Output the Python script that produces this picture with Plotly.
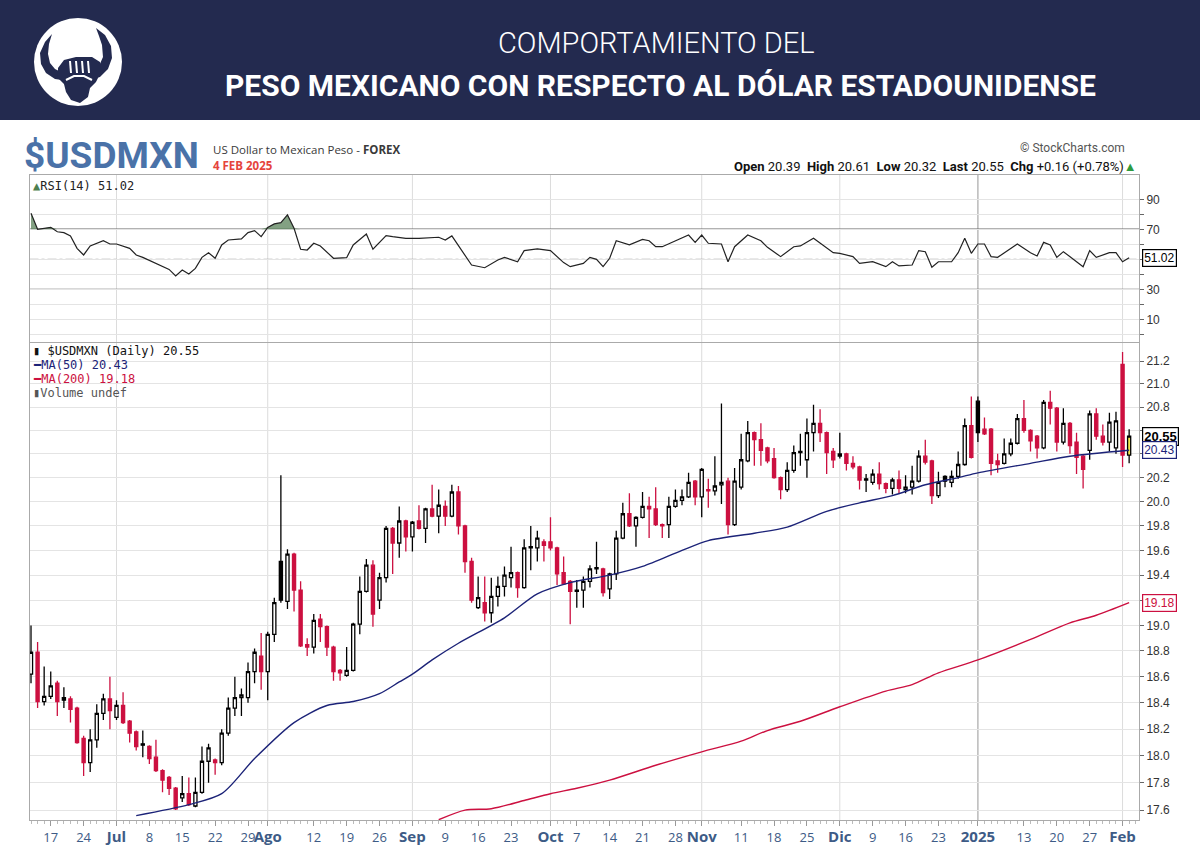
import numpy as np
import pandas as pd
import plotly.graph_objects as go

W, H = 1200, 864

# trading days shown (weekdays, no Dec 25 / Jan 1)
holidays = ["2024-12-25", "2025-01-01"]
dates = [d.strftime("%Y-%m-%d") for d in pd.bdate_range("2024-06-12", "2025-02-04")
         if d.strftime("%Y-%m-%d") not in holidays]

opens = [18.62, 18.79, 18.41, 18.45, 18.55, 18.44, 18.43, 18.36, 18.13, 17.95,
         18.12, 18.32, 18.43, 18.29, 18.38, 18.26, 18.18, 18.09, 18.07, 17.99,
         17.89, 17.84, 17.76, 17.69, 17.72, 17.63, 17.73, 17.96, 17.97, 17.95,
         18.17, 18.36, 18.44, 18.44, 18.64, 18.76, 18.64, 18.93, 19.51, 19.19,
         19.57, 19.28, 18.85, 18.83, 19.05, 18.99, 18.83, 18.65, 18.61, 18.65,
         19.01, 19.27, 19.48, 19.20, 19.38, 19.78, 19.66, 19.84, 19.71, 19.84,
         19.78, 19.94, 19.88, 19.96, 19.88, 20.08, 19.80, 19.51, 19.14, 19.18,
         19.10, 19.23, 19.31, 19.38, 19.42, 19.30, 19.63, 19.62, 19.67, 19.67,
         19.62, 19.42, 19.35, 19.27, 19.28, 19.35, 19.46, 19.45, 19.29, 19.41,
         19.70, 19.90, 19.80, 19.87, 19.96, 19.94, 19.81, 19.81, 19.96, 20.01,
         20.04, 20.17, 20.04, 20.10, 20.09, 20.14, 20.17, 19.81, 20.12, 20.34,
         20.58, 20.52, 20.45, 20.36, 20.20, 20.10, 20.26, 20.41, 20.35, 20.58,
         20.66, 20.58, 20.42, 20.38, 20.40, 20.32, 20.29, 20.19, 20.16, 20.23,
         20.15, 20.11, 20.18, 20.10, 20.12, 20.17, 20.38, 20.34, 20.05, 20.21,
         20.16, 20.21, 20.31, 20.64, 20.85, 20.61, 20.61, 20.34, 20.32, 20.40,
         20.49, 20.70, 20.60, 20.55, 20.45, 20.84, 20.79, 20.50, 20.66, 20.50,
         20.38, 20.43, 20.74, 20.55, 20.50, 20.45, 21.17, 20.39]
highs = [19.00, 18.87, 18.68, 18.64, 18.57, 18.52, 18.45, 18.37, 18.15, 18.20,
         18.39, 18.47, 18.60, 18.42, 18.48, 18.27, 18.19, 18.19, 18.08, 18.12,
         17.90, 17.85, 17.77, 17.85, 17.84, 17.84, 18.07, 18.09, 17.98, 18.20,
         18.44, 18.60, 18.51, 18.71, 18.82, 18.94, 18.95, 19.22, 20.22, 19.61,
         19.58, 19.35, 18.90, 19.09, 19.09, 19.00, 18.84, 18.66, 18.83, 19.02,
         19.39, 19.53, 19.52, 19.42, 19.80, 19.79, 19.96, 19.85, 19.84, 19.97,
         19.95, 20.14, 20.10, 20.01, 20.14, 20.13, 19.81, 19.54, 19.39, 19.39,
         19.38, 19.39, 19.47, 19.63, 19.43, 19.69, 19.80, 19.76, 19.69, 19.87,
         19.63, 19.55, 19.36, 19.36, 19.39, 19.48, 19.67, 19.46, 19.42, 19.76,
         19.99, 20.07, 19.88, 20.08, 20.04, 20.12, 19.82, 20.04, 20.10, 20.10,
         20.24, 20.18, 20.28, 20.19, 20.38, 20.83, 20.20, 20.28, 20.57, 20.68,
         20.59, 20.66, 20.46, 20.45, 20.21, 20.33, 20.47, 20.57, 20.70, 20.82,
         20.78, 20.59, 20.45, 20.58, 20.41, 20.38, 20.30, 20.23, 20.27, 20.33,
         20.16, 20.20, 20.26, 20.22, 20.30, 20.43, 20.52, 20.35, 20.25, 20.22,
         20.26, 20.42, 20.70, 20.89, 20.89, 20.71, 20.62, 20.40, 20.53, 20.53,
         20.74, 20.86, 20.61, 20.56, 20.86, 20.94, 20.80, 20.79, 20.67, 20.58,
         20.39, 20.77, 20.79, 20.65, 20.75, 20.76, 21.28, 20.61]
lows = [18.55, 18.36, 18.38, 18.43, 18.30, 18.36, 18.25, 18.09, 17.85, 17.88,
        18.06, 18.27, 18.20, 18.27, 18.24, 18.10, 18.04, 17.99, 17.94, 17.88,
        17.73, 17.71, 17.60, 17.66, 17.63, 17.62, 17.72, 17.80, 17.86, 17.93,
        18.15, 18.30, 18.30, 18.40, 18.55, 18.50, 18.42, 18.87, 19.18, 19.13,
        19.11, 18.83, 18.76, 18.78, 18.87, 18.76, 18.57, 18.57, 18.60, 18.64,
        18.93, 19.26, 18.99, 19.13, 19.34, 19.41, 19.54, 19.59, 19.59, 19.77,
        19.66, 19.87, 19.74, 19.80, 19.87, 19.73, 19.42, 19.18, 19.13, 19.03,
        19.02, 19.15, 19.23, 19.30, 19.22, 19.29, 19.44, 19.51, 19.51, 19.60,
        19.32, 19.32, 19.01, 19.14, 19.14, 19.30, 19.41, 19.23, 19.21, 19.36,
        19.69, 19.79, 19.63, 19.86, 19.70, 19.80, 19.70, 19.70, 19.95, 19.97,
        20.03, 19.97, 19.87, 19.95, 20.05, 19.98, 19.73, 19.80, 20.10, 20.33,
        20.30, 20.30, 20.32, 20.19, 20.02, 20.08, 20.24, 20.30, 20.20, 20.42,
        20.50, 20.23, 20.28, 20.36, 20.26, 20.27, 20.10, 20.08, 20.14, 20.10,
        20.07, 20.06, 20.07, 20.07, 20.06, 20.16, 20.31, 19.98, 20.03, 20.12,
        20.12, 20.19, 20.30, 20.36, 20.50, 20.56, 20.22, 20.24, 20.31, 20.38,
        20.48, 20.58, 20.42, 20.36, 20.44, 20.65, 20.42, 20.48, 20.40, 20.23,
        20.11, 20.35, 20.52, 20.47, 20.42, 20.40, 20.29, 20.32]
closes = [18.79, 18.41, 18.45, 18.53, 18.41, 18.42, 18.35, 18.10, 17.95, 18.12,
          18.32, 18.43, 18.34, 18.38, 18.25, 18.17, 18.07, 18.08, 17.98, 17.89,
          17.82, 17.76, 17.61, 17.72, 17.64, 17.73, 17.96, 18.06, 17.95, 18.17,
          18.36, 18.44, 18.46, 18.64, 18.79, 18.64, 18.93, 19.18, 19.20, 19.57,
          19.28, 18.84, 18.83, 19.04, 18.99, 18.83, 18.64, 18.63, 18.65, 19.01,
          19.27, 19.48, 19.09, 19.38, 19.78, 19.66, 19.84, 19.71, 19.83, 19.78,
          19.94, 19.88, 19.97, 19.88, 20.08, 19.80, 19.51, 19.20, 19.22, 19.10,
          19.23, 19.31, 19.40, 19.42, 19.30, 19.62, 19.62, 19.70, 19.64, 19.62,
          19.41, 19.33, 19.27, 19.28, 19.35, 19.45, 19.45, 19.26, 19.41, 19.70,
          19.90, 19.80, 19.87, 19.96, 19.94, 19.81, 19.80, 19.96, 20.01, 20.04,
          20.16, 20.04, 20.27, 20.09, 20.13, 20.16, 19.81, 20.17, 20.35, 20.58,
          20.52, 20.43, 20.34, 20.20, 20.10, 20.26, 20.41, 20.42, 20.58, 20.66,
          20.58, 20.41, 20.35, 20.40, 20.32, 20.29, 20.18, 20.18, 20.23, 20.15,
          20.11, 20.18, 20.11, 20.12, 20.17, 20.38, 20.33, 20.05, 20.16, 20.17,
          20.21, 20.31, 20.64, 20.37, 20.58, 20.57, 20.32, 20.31, 20.40, 20.49,
          20.70, 20.60, 20.51, 20.45, 20.84, 20.79, 20.50, 20.66, 20.47, 20.37,
          20.27, 20.74, 20.55, 20.50, 20.67, 20.68, 20.39, 20.55]

# moving averages and RSI (day index, value)
ma50_idx = [16, 24, 29, 34, 40, 45, 49, 53, 56, 58, 61, 65, 72, 77, 82, 88, 93, 99,
            103, 110, 115, 121, 126, 131, 136, 141, 144, 152, 158, 167]
ma50_val = [17.56, 17.64, 17.72, 17.98, 18.25, 18.38, 18.41, 18.47, 18.56, 18.62,
            18.73, 18.86, 19.06, 19.25, 19.34, 19.40, 19.47, 19.60, 19.68, 19.74,
            19.79, 19.92, 19.99, 20.05, 20.14, 20.20, 20.24, 20.32, 20.38, 20.43]
ma200_idx = [62, 66, 70, 75, 79, 83, 88, 95, 102, 108, 112, 117, 123, 130, 134, 138,
             144, 152, 158, 162, 167]
ma200_val = [17.53, 17.60, 17.61, 17.67, 17.72, 17.76, 17.82, 17.93, 18.03, 18.11,
             18.19, 18.26, 18.37, 18.49, 18.54, 18.63, 18.73, 18.89, 19.02, 19.08, 19.18]
rsi_idx = [0, 1, 3, 4, 5, 6, 7, 8, 9, 11, 12, 13, 15, 16, 17, 19, 21, 22, 23, 24,
           25, 26, 27, 28, 29, 30, 32, 33, 34, 35, 36, 37, 38, 39, 40, 41, 42, 43, 44, 46,
           48, 49, 51, 52, 54, 55, 57, 59, 62, 63, 64, 67, 69, 71, 72, 74, 75, 77, 79, 81,
           82, 84, 85, 86, 87, 88, 89, 91, 93, 94, 95, 96, 98, 100, 101, 102, 103, 105, 106, 107,
           109, 111, 112, 114, 116, 117, 119, 120, 122, 123, 125, 126, 128, 130, 131, 132, 134, 135, 136, 137,
           138, 140, 141, 142, 143, 144, 145, 146, 147, 150, 152, 153, 154, 155, 156, 157, 160, 161, 162, 164,
           165, 166, 167]
rsi_val = [80.7, 70.0, 71.3, 68.4, 67.8, 65.6, 57.3, 52.9, 58.9, 62.4, 60.2, 60.2, 57.3, 52.9, 51.3, 47.3, 43.3, 38.9, 42.9, 40.2,
           44.0, 51.3, 54.4, 50.7, 59.6, 62.9, 63.6, 67.8, 69.1, 65.1, 71.3, 73.6, 74.4, 79.6, 70.7, 56.7, 56.2, 60.7, 58.9, 50.7,
           51.1, 59.6, 66.9, 56.7, 65.8, 65.1, 64.0, 64.0, 64.7, 62.9, 65.6, 46.2, 44.4, 49.6, 51.3, 48.4, 55.8, 56.9, 55.8, 47.8,
           45.1, 47.3, 51.3, 50.0, 45.1, 50.7, 62.4, 59.6, 63.3, 62.4, 58.4, 58.4, 62.4, 66.2, 61.3, 66.2, 60.7, 60.2, 48.4, 58.4,
           66.2, 62.4, 58.0, 51.8, 58.4, 58.9, 64.0, 60.7, 54.4, 54.0, 51.8, 47.3, 48.4, 45.1, 48.4, 45.6, 46.2, 55.8, 55.1, 44.7,
           48.4, 48.4, 54.4, 64.0, 54.0, 60.2, 60.2, 51.8, 51.3, 60.2, 54.4, 52.2, 61.3, 59.6, 51.3, 55.1, 45.1, 55.8, 51.3, 54.4,
           54.4, 48.4, 51.02]

tick_dates = ["2024-06-17", "2024-06-24", "2024-07-01", "2024-07-08", "2024-07-15", "2024-07-22",
              "2024-07-29", "2024-08-01", "2024-08-12", "2024-08-19", "2024-08-26", "2024-09-02",
              "2024-09-09", "2024-09-16", "2024-09-23", "2024-10-01", "2024-10-07", "2024-10-14",
              "2024-10-21", "2024-10-28", "2024-11-01", "2024-11-11", "2024-11-18", "2024-11-25",
              "2024-12-02", "2024-12-09", "2024-12-16", "2024-12-23", "2025-01-02", "2025-01-13",
              "2025-01-20", "2025-01-27", "2025-02-03"]
tick_text = ["17", "24", "Jul", "8", "15", "22", "29", "Ago", "12", "19", "26", "Sep", "9", "16",
             "23", "Oct", "7", "14", "21", "28", "Nov", "11", "18", "25", "Dic", "9", "16", "23",
             "2025", "13", "20", "27", "Feb"]
month_labels = {"Jul", "Ago", "Sep", "Oct", "Nov", "Dic", "2025", "Feb"}

price_ticks = [17.6, 17.8, 18.0, 18.2, 18.4, 18.6, 18.8, 19.0, 19.2, 19.4, 19.6, 19.8,
               20.0, 20.2, 20.4, 20.6, 20.8, 21.0, 21.2]
hidden_ticks = {19.2, 20.4, 20.6}   # sit under the last-value boxes

n = len(dates)
assert n == len(closes) == 168
x = list(range(n))

RED = "#cc1040"
NAVY = "#1c2378"
HEADER = "#232a4f"
AXIS_BLUE = "#3d5b86"

fig = go.Figure()

# candles grouped by style: red when close < previous close, filled when close < open
groups = {}
for i in x:
    if i == n - 1:
        key = "last"
    else:
        red = i > 0 and closes[i] < closes[i - 1]
        filled = closes[i] < opens[i]
        key = ("red" if red else "black", filled)
    groups.setdefault(key, []).append(i)

for key, ids in groups.items():
    if key == "last":
        col, fill = "black", "#f5e94a"
    else:
        col = RED if key[0] == "red" else "black"
        fill = col if key[1] else "white"
    style = dict(line=dict(color=col, width=1.3), fillcolor=fill)
    fig.add_trace(go.Candlestick(
        x=ids,
        open=[opens[i] for i in ids], high=[highs[i] for i in ids],
        low=[lows[i] for i in ids], close=[closes[i] for i in ids],
        increasing=style, decreasing=style, whiskerwidth=0,
        hoverinfo="skip", showlegend=False, xaxis="x", yaxis="y"))

fig.add_trace(go.Scatter(x=ma50_idx, y=ma50_val, mode="lines",
                         line=dict(color=NAVY, width=1.4, shape="spline", smoothing=0.8),
                         hoverinfo="skip", showlegend=False, xaxis="x", yaxis="y"))
fig.add_trace(go.Scatter(x=ma200_idx, y=ma200_val, mode="lines",
                         line=dict(color=RED, width=1.4, shape="spline", smoothing=0.8),
                         hoverinfo="skip", showlegend=False, xaxis="x", yaxis="y"))

# RSI panel: fill above 70 then the line
rsi_clip = np.maximum(np.array(rsi_val), 70)
fig.add_trace(go.Scatter(x=rsi_idx, y=[70] * len(rsi_idx), mode="lines",
                         line=dict(width=0), hoverinfo="skip", showlegend=False,
                         xaxis="x2", yaxis="y2"))
fig.add_trace(go.Scatter(x=rsi_idx, y=rsi_clip, mode="lines", fill="tonexty",
                         fillcolor="rgba(90,130,90,0.75)", line=dict(width=0),
                         hoverinfo="skip", showlegend=False, xaxis="x2", yaxis="y2"))
fig.add_trace(go.Scatter(x=rsi_idx, y=rsi_val, mode="lines",
                         line=dict(color="#222222", width=1.2), hoverinfo="skip",
                         showlegend=False, xaxis="x2", yaxis="y2"))

x_dom = [29.5 / W, 1139 / W]
price_dom = [(H - 820) / H, (H - 343) / H]
rsi_dom = [(H - 342) / H, (H - 175) / H]
x_range = [-0.23, 168.5]

tickvals = [dates.index(d) for d in tick_dates]
ticktext = [f"<span style='font-size:15px'><b>{t}</b></span>" if t in month_labels else t
            for t in tick_text]

fig.update_layout(
    width=W, height=H, margin=dict(l=0, r=0, t=0, b=0),
    paper_bgcolor="white", plot_bgcolor="white",
    boxgap=0.32,
    xaxis=dict(domain=x_dom, range=x_range, anchor="y", tickangle=0,
               tickmode="array", tickvals=tickvals, ticktext=ticktext,
               tickfont=dict(family="Open Sans, sans-serif", size=13, color=AXIS_BLUE),
               ticks="outside", ticklen=5, tickcolor="#999",
               minor=dict(tickmode="linear", tick0=0, dtick=1, ticks="outside",
                          ticklen=3, tickcolor="#bbb", showgrid=False),
               showgrid=False, zeroline=False, showline=True, mirror=True,
               linecolor="#aaa", rangeslider=dict(visible=False), fixedrange=True),
    xaxis2=dict(domain=x_dom, range=x_range, anchor="y2", matches="x",
                showticklabels=False, ticks="", showgrid=False, zeroline=False,
                showline=True, mirror=True, linecolor="#aaa"),
    yaxis=dict(domain=price_dom, type="log",
               range=[np.log10(17.528), np.log10(21.359)],
               side="right", anchor="x", tickmode="array", tickvals=price_ticks,
               ticktext=["" if v in hidden_ticks else f"{v:.1f}" for v in price_ticks],
               tickfont=dict(family="Liberation Sans, Arial, sans-serif", size=12, color="#333"),
               ticks="outside", ticklen=4, tickcolor="#666",
               showgrid=True, gridcolor="#e4e4e4", zeroline=False,
               showline=True, mirror=True, linecolor="#aaa"),
    yaxis2=dict(domain=rsi_dom, range=[-5.1, 106.2], side="right", anchor="x2",
                tickmode="array", tickvals=[0, 10, 20, 30, 40, 50, 60, 70, 80, 90],
                ticktext=["", "10", "", "30", "", "", "", "70", "", "90"],
                tickfont=dict(family="Liberation Sans, Arial, sans-serif", size=12, color="#333"),
                ticks="outside", ticklen=4, tickcolor="#666",
                showgrid=True, gridcolor="#e4e4e4", zeroline=False,
                showline=True, mirror=True, linecolor="#aaa"),
)

shapes = []
# month gridlines
for k, d in enumerate(dates):
    if k > 0 and d[5:7] != dates[k - 1][5:7]:
        dark = d.startswith("2025-01")
        shapes.append(dict(type="line", xref="x", yref="paper", x0=k, x1=k,
                           y0=price_dom[0], y1=rsi_dom[1], layer="below",
                           line=dict(color="#a8a8a8" if dark else "#dcdcdc", width=1.2 if dark else 1)))
# RSI reference levels
for lvl, col, dash, wd in [(70, "#666", "solid", 1.6), (30, "#666", "solid", 1.3), (50, "#777", "dashdot", 1)]:
    shapes.append(dict(type="line", xref="paper", yref="y2", x0=x_dom[0], x1=x_dom[1],
                       y0=lvl, y1=lvl, layer="below", line=dict(color=col, width=wd, dash=dash)))

# header band and logo
def pts(points, close=True):
    s = "M " + " L ".join(f"{px / W:.5f},{1 - py / H:.5f}" for px, py in points)
    return s + (" Z" if close else "")

shapes.append(dict(type="rect", xref="paper", yref="paper", x0=0, x1=1,
                   y0=1 - 120 / H, y1=1, fillcolor=HEADER, line=dict(width=0), layer="below"))
shapes.append(dict(type="circle", xref="paper", yref="paper", x0=34 / W, x1=122 / W,
                   y0=1 - 106 / H, y1=1 - 18 / H, fillcolor="white", line=dict(width=0)))
left_horn = [(52, 34), (45, 42), (40, 53), (41, 64), (46, 73), (55, 79), (62, 80),
             (63, 73), (55, 69), (50, 63), (48, 54), (49, 44)]
right_horn = [(96, 28), (105, 35), (111, 46), (112, 58), (108, 69), (100, 77), (93, 79),
              (92, 72), (99, 66), (103, 57), (102, 45), (99, 36)]
head = [(58, 68), (64, 60), (76, 57), (92, 57), (100, 62), (101, 72), (96, 82), (90, 88),
        (88, 97), (80, 103), (71, 100), (66, 92), (64, 84), (58, 78)]
for poly in (left_horn, right_horn, head):
    shapes.append(dict(type="path", xref="paper", yref="paper", path=pts(poly),
                       fillcolor=HEADER, line=dict(width=0)))
for fx in (70, 76, 82, 88):
    shapes.append(dict(type="path", xref="paper", yref="paper",
                       path=pts([(fx, 61), (fx + 1, 73)], close=False),
                       line=dict(color="white", width=2)))
shapes.append(dict(type="path", xref="paper", yref="paper",
                   path=pts([(66, 80), (74, 76), (84, 76), (92, 80)], close=False),
                   line=dict(color="white", width=2)))
fig.update_layout(shapes=shapes)

def ann(text, px, py, size, color="#333", family="Open Sans, sans-serif", xanchor="left",
        yanchor="middle", weight=None):
    font = dict(size=size, color=color, family=family)
    if weight:
        font["weight"] = weight
    fig.add_annotation(text=text, x=px / W, y=1 - py / H, xref="paper", yref="paper",
                       xanchor=xanchor, yanchor=yanchor, showarrow=False, font=font,
                       borderpad=0)

ann("COMPORTAMIENTO DEL", 656, 43, 29, "white", "Roboto, sans-serif", xanchor="center", weight=300)
ann("<b>PESO MEXICANO CON RESPECTO AL DÓLAR ESTADOUNIDENSE</b>", 660, 86, 30, "white",
    "Roboto, sans-serif", xanchor="center")

ann("<b>$USDMXN</b>", 23, 155, 37, "#4a72a8", "Roboto, sans-serif")
ann("US Dollar to Mexican Peso - <b>FOREX</b>", 212, 149, 11.5, "#3a3a3a")
ann("<b>4 FEB 2025</b>", 212, 165, 11.5, "#e5443c")
ann("© StockCharts.com", 1126, 148, 12, "#555", "Roboto, sans-serif", xanchor="right")
ann("<b>Open</b> 20.39  <b>High</b> 20.61  <b>Low</b> 20.32  <b>Last</b> 20.55  "
    "<b>Chg</b> +0.16 (+0.78%)<span style='color:#2e9a3e'>▲</span>",
    1138, 166, 13, "#111", "Roboto, sans-serif", xanchor="right")

mono = "DejaVu Sans Mono, monospace"
ann("<span style='color:#4f7f4f'>▲</span>RSI(14) 51.02", 32, 186, 12, "#222", mono)
ann("▮ $USDMXN (Daily) 20.55", 32, 351, 12, "#111", mono)
ann(f"<span style='color:{NAVY}'>━MA(50) 20.43</span>", 32, 365, 12, NAVY, mono)
ann(f"<span style='color:{RED}'>━MA(200) 19.18</span>", 32, 379, 12, RED, mono)
ann("▮Volume undef", 32, 393, 12, "#555", mono)

# last-value boxes on the right axis
for val, yref, col, bold in [(20.55, "y", "black", True), (20.43, "y", NAVY, False),
                             (19.18, "y", RED, False), (51.02, "y2", "black", False)]:
    yv = np.log10(val) if yref == "y" else val
    txt = f"<b>{val:.2f}</b>" if bold else f"{val:.2f}"
    fig.add_annotation(text=txt, x=1142 / W, xref="paper", y=yv, yref=yref,
                       xanchor="left", yanchor="middle", showarrow=False,
                       font=dict(size=13 if bold else 12, color=col,
                                 family="Liberation Sans, Arial, sans-serif"),
                       bgcolor="white", bordercolor=col, borderwidth=1.2, borderpad=1)

fig.write_html("out.html", config={"displayModeBar": False},
               post_script="document.body.style.margin='0';")
